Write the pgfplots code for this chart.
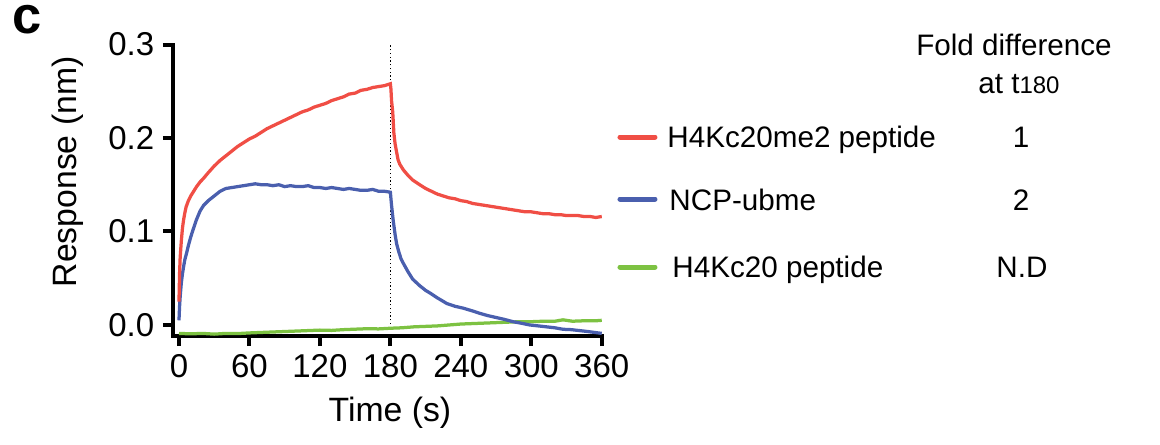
\documentclass[border=0pt]{standalone}
\usepackage{fontspec}
\setmainfont{Liberation Sans}
\usepackage{pgfplots}
\pgfplotsset{compat=1.18}

\definecolor{cRed}{RGB}{240,78,69}
\definecolor{cBlue}{RGB}{74,95,174}
\definecolor{cGreen}{RGB}{125,194,66}

\begin{document}
\begin{tikzpicture}
\useasboundingbox (0,0) rectangle (464pt,177.6pt);
\begin{axis}[
  at={(69.2pt,43.2pt)},anchor=south west,
  scale only axis,width=171.5pt,height=116.6pt,
  xmin=-5.1,xmax=360,ymin=-0.0118,ymax=0.3,
  axis lines=left,
  axis line style={-,line width=1.6pt,line cap=rect},
  tick style={line width=1.6pt,black},
  major tick length=4pt,tick align=outside,
  xtick={0,60,...,360},ytick={0,0.1,0.2,0.3},
  yticklabel style={/pgf/number format/.cd,fixed,fixed zerofill,precision=1},
  /pgf/number format/assume math mode=true,
  tick label style={font=\fontsize{13.2}{15}\selectfont},
  label style={font=\fontsize{13.5}{16}\selectfont},
  xlabel={Time (s)},ylabel={Response (nm)},
  xlabel style={at={(axis description cs:0.506,-0.264)},anchor=center},
  ylabel style={at={(axis description cs:-0.245,0.563)},anchor=center},
  clip=false,
]
\addplot[black,line width=0.5pt,densely dotted] coordinates {(180,-0.003)(180,0.3)};
% H4Kc20 peptide
\addplot[cGreen,line width=1.3pt] coordinates {
(0,-0.009)(10,-0.0095)(20,-0.009)(30,-0.0098)(40,-0.009)(50,-0.0092)(60,-0.0085)
(70,-0.008)(80,-0.0075)(90,-0.007)(100,-0.0065)(110,-0.006)(120,-0.0055)(130,-0.0058)
(140,-0.005)(150,-0.0045)(160,-0.004)(170,-0.0042)(180,-0.0035)(190,-0.003)(200,-0.002)
(210,-0.0015)(220,-0.001)(230,0.000)(240,0.001)(250,0.0015)(260,0.002)(270,0.0025)
(280,0.003)(290,0.0035)(300,0.0035)(310,0.004)(320,0.004)(327,0.0055)(335,0.004)
(345,0.0045)(355,0.0045)(360,0.005)};
% NCP-ubme
\addplot[cBlue,line width=1.3pt] coordinates {
(0,0.005)(0.5,0.020)(1,0.030)(2,0.045)(3,0.055)(4,0.063)(5,0.070)(6.5,0.077)(8,0.085)
(10,0.094)(12,0.102)(15,0.113)(18,0.122)(21,0.128)(25,0.133)(29,0.137)(35,0.143)
(40,0.146)(45,0.147)(50,0.148)(55,0.149)(60,0.150)(65,0.151)(70,0.150)(75,0.150)
(80,0.149)(85,0.150)(90,0.148)(95,0.149)(100,0.148)(105,0.148)(110,0.149)(115,0.147)
(120,0.147)(125,0.146)(130,0.147)(135,0.146)(140,0.145)(145,0.146)(150,0.145)
(155,0.144)(160,0.144)(165,0.145)(170,0.143)(175,0.143)(180,0.142)
(180.5,0.135)(181,0.128)(182.4,0.112)(184,0.097)(185.3,0.087)(187,0.079)(189,0.071)
(191,0.066)(195,0.057)(199,0.049)(205,0.042)(210,0.037)(214,0.034)(220,0.029)
(228,0.023)(235,0.020)(242,0.018)(250,0.015)(256,0.0125)(263,0.010)(270,0.008)
(277,0.006)(284.5,0.0035)(291,0.002)(298.7,0.000)(306,-0.001)(313,-0.002)(320,-0.003)
(327,-0.0046)(334,-0.005)(341,-0.006)(348,-0.007)(354,-0.008)(360,-0.009)};
% H4Kc20me2 peptide
\addplot[cRed,line width=1.3pt] coordinates {
(0,0.025)(0.5,0.055)(1,0.072)(2,0.090)(3,0.104)(4,0.113)(5,0.120)(6,0.126)(8,0.133)
(10,0.138)(12,0.142)(15,0.148)(18,0.153)(21,0.157)(25,0.163)(30,0.170)(35,0.176)
(40,0.181)(45,0.186)(50,0.191)(55,0.195)(60,0.199)(65,0.202)(70,0.206)(75,0.210)
(80,0.213)(85,0.216)(90,0.219)(95,0.222)(100,0.225)(105,0.228)(110,0.230)(115,0.233)
(120,0.235)(125,0.237)(130,0.240)(135,0.242)(140,0.244)(145,0.247)(150,0.248)
(155,0.251)(160,0.252)(165,0.254)(170,0.255)(175,0.256)(180,0.258)
(180.5,0.252)(181,0.240)(182,0.228)(183,0.205)(184,0.194)(185,0.187)(186.5,0.177)
(188,0.172)(191,0.166)(195,0.160)(199,0.155)(205,0.150)(210,0.146)(215,0.143)
(220,0.140)(225,0.138)(230,0.136)(235,0.135)(240,0.133)(245,0.132)(250,0.130)
(255,0.129)(260,0.128)(265,0.127)(270,0.126)(275,0.125)(280,0.124)(285,0.123)
(290,0.122)(295,0.121)(300,0.121)(305,0.120)(310,0.119)(315,0.119)(320,0.118)
(325,0.118)(330,0.117)(335,0.117)(340,0.117)(345,0.116)(350,0.116)(355,0.115)(360,0.116)};
\end{axis}
% panel letter and legend, in pixel units of the reference
\begin{scope}[x=0.4pt,y=-0.4pt,yshift=177.6pt]
\node[font=\fontsize{21}{24}\selectfont\bfseries,inner sep=0pt,anchor=base] at (27,33) {c};
\begin{scope}[font=\fontsize{11.85}{14}\selectfont]
\draw[cRed,line width=2pt,line cap=round] (620,137) -- (655,137);
\draw[cBlue,line width=2pt,line cap=round] (620,199) -- (655,199);
\draw[cGreen,line width=2pt,line cap=round] (620,267) -- (655,267);
\node[anchor=base west,inner sep=0pt] at (667,147) {H4Kc20me2 peptide};
\node[anchor=base west,inner sep=0pt] at (669,210) {NCP-ubme};
\node[anchor=base west,inner sep=0pt] at (672,277) {H4Kc20 peptide};
\node[anchor=base,inner sep=0pt] at (1021,147) {1};
\node[anchor=base,inner sep=0pt] at (1021,210) {2};
\node[anchor=base,inner sep=0pt] at (1022,277) {N.D};
\node[anchor=base,inner sep=0pt] at (1014,55) {Fold difference};
\node[anchor=base,inner sep=0pt] at (1019,93) {at t\raisebox{-0.3pt}{\fontsize{9.6}{11}\selectfont 180}};
\end{scope}
\end{scope}
\end{tikzpicture}
\end{document}
